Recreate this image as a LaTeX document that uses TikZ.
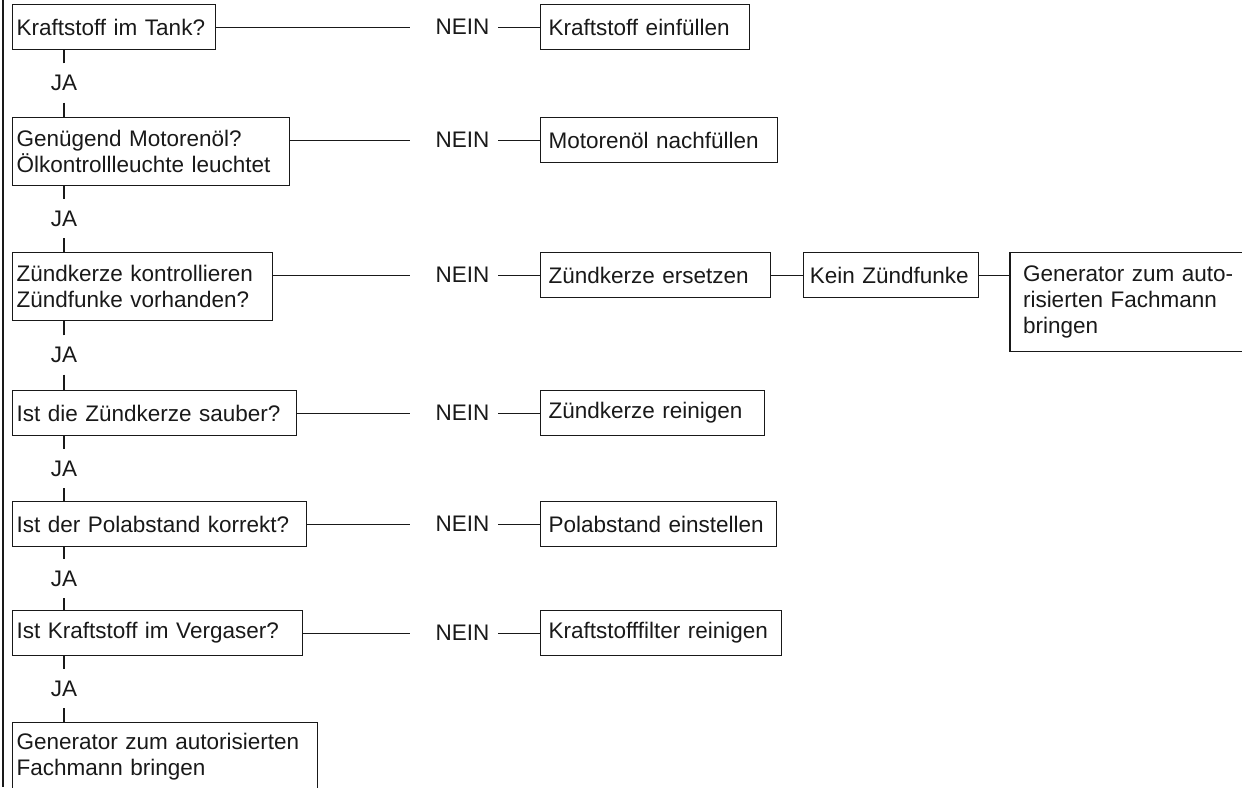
\documentclass[tikz,border=0pt]{standalone}
\usepackage{fontspec}
\setmainfont{Liberation Sans}
\usetikzlibrary{positioning}

\tikzset{
	qbox/.style={draw,anchor=north west,align=left,inner xsep=2pt,inner ysep=0pt,text width=#1,minimum height=22.5pt},
	abox/.style={draw,anchor=north west,align=left,inner xsep=4pt,inner ysep=0pt,text width=#1,minimum height=22.5pt},
	lbl/.style={inner sep=0pt},
	ja/.style={inner sep=0pt,minimum height=19pt},
}

\begin{document}
\begin{tikzpicture}[x=0.5pt,y=-0.5pt,font=\fontsize{11.25}{13}\selectfont,line width=0.6pt,color=black!90]
	\useasboundingbox (0,0) rectangle (1242,787);
	\clip (0,0) rectangle (1242,787);
	\draw (3,0) -- (3,787);
	% Fragen
	\node[qbox=97.5pt] (q1) at (12,4) {Kraftstoff im Tank?};
	\node[qbox=134.5pt,minimum height=34pt] (q2) at (12,117) {Genügend Motorenöl?\\Ölkontrollleuchte leuchtet};
	\node[qbox=126pt,minimum height=34pt] (q3) at (12,252) {Zündkerze kontrollieren\\Zündfunke vorhanden?};
	\node[qbox=138pt] (q4) at (12,390) {Ist die Zündkerze sauber?};
	\node[qbox=143pt] (q5) at (12,501) {Ist der Polabstand korrekt?};
	\node[qbox=141pt] (q6) at (12,610) {Ist Kraftstoff im Vergaser?};
	\node[qbox=148.5pt,minimum height=34pt] (q7) at (12,722) {Generator zum autorisierten\\Fachmann bringen};
	% Massnahmen
	\node[abox=96.5pt] (a1) at (540,4) {Kraftstoff einfüllen};
	\node[abox=110.5pt] (a2) at (540,117) {Motorenöl nachfüllen};
	\node[abox=107pt] (a3) at (540,252) {Zündkerze ersetzen};
	\node[abox=104pt] (a4) at (540,390) {Zündkerze reinigen};
	\node[abox=110pt] (a5) at (540,501) {Polabstand einstellen};
	\node[abox=112.5pt] (a6) at (540,610) {Kraftstofffilter reinigen};
	\node[abox=81.5pt,inner xsep=3pt,right=16pt of a3] (kein) {Kein Zündfunke};
	\node[abox=104pt,inner xsep=6.5pt,minimum height=49.5pt,below right=0pt and 15pt of kein.north east] (gen)
		{\mbox{Generator zum auto-}\\\mbox{risierten Fachmann}\\bringen};
	% NEIN
	\foreach \i in {1,...,6}
	{
		\node[lbl,left=25pt of a\i] (nein\i) {NEIN};
		\draw (q\i.east |- a\i.west) -- ([xshift=-12.5pt]nein\i.west);
		\draw ([xshift=4pt]nein\i.east) -- (a\i.west);
	}
	\draw (a3) -- (kein);
	\draw (kein.east) -- (kein.east -| gen.west);
	% JA
	\foreach \i/\j/\y in {1/2/83,2/3/218.5,3/4/355,4/5/468.5,5/6/578.5,6/7/688.5}
	{
		\node[ja] (ja\i) at (64,\y) {JA};
		\draw (ja\i.north) -- (ja\i.north |- q\i.south);
		\draw (ja\i.south) -- (ja\i.south |- q\j.north);
	}
\end{tikzpicture}
\end{document}
